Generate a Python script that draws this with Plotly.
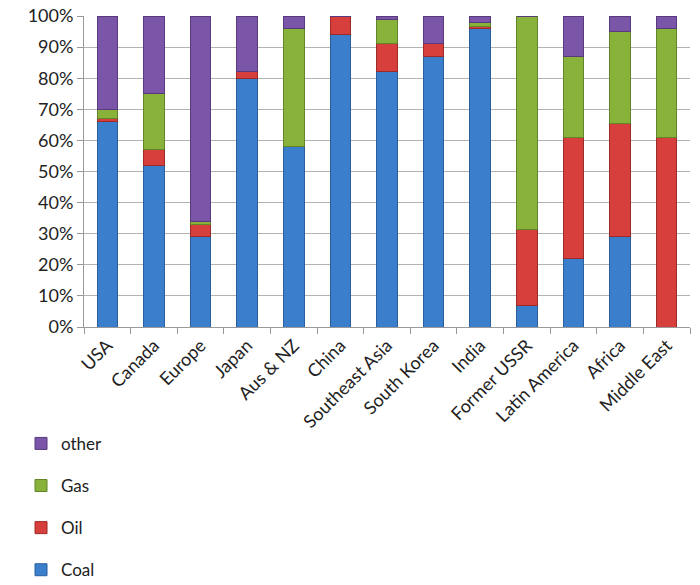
import plotly.graph_objects as go

# Share of electricity generation by fuel, per region (%)
regions = ["USA", "Canada", "Europe", "Japan", "Aus & NZ", "China",
           "Southeast Asia", "South Korea", "India", "Former USSR",
           "Latin America", "Africa", "Middle East"]
coal = [66, 52, 29, 80, 58, 94, 82, 87, 96, 7, 22, 29, 0]
oil = [1, 5, 4, 2, 0, 6, 9, 4, 0.5, 24.5, 39, 36.5, 61]
gas = [3, 18, 1, 0, 38, 0, 8, 0, 1.5, 68.5, 26, 29.5, 35]
other = [30, 25, 66, 18, 4, 0, 1, 9, 2, 0, 13, 5, 4]

# stacked bottom-to-top; legend lists them top-to-bottom in reverse
series = [
    ("Coal", coal, "#3b7fcc", "#2a5f9e", 4),
    ("Oil", oil, "#d63f3b", "#9e2a27", 3),
    ("Gas", gas, "#88b23a", "#62852a", 2),
    ("other", other, "#7a55a8", "#583a7e", 1),
]

fig = go.Figure()
for name, vals, col, edge, rank in series:
    fig.add_trace(go.Bar(
        x=regions, y=vals, name=name, legendgroup=name, legendrank=rank,
        marker=dict(color=col, line=dict(color=edge, width=1)),
    ))

font_family = "Lato, 'Open Sans', sans-serif"
fig.update_layout(
    width=700, height=585,
    margin=dict(l=84, r=10, t=16, b=258, autoexpand=False),
    barmode="stack", bargap=0.56,
    plot_bgcolor="white", paper_bgcolor="white",
    font=dict(family=font_family, size=16, color="#222222"),
    showlegend=True,
    legend=dict(
        xref="container", yref="container",
        x=0.03, y=0.272, xanchor="left", yanchor="top",
        traceorder="grouped", tracegroupgap=17,
        font=dict(size=17), itemwidth=30,
    ),
    xaxis=dict(
        tickangle=-45, tickson="boundaries", ticks="outside", ticklen=6,
        tickcolor="#999999", showline=True, linecolor="#999999",
        showgrid=False, tickfont=dict(size=18),
    ),
    yaxis=dict(
        range=[0, 100], dtick=10, ticksuffix="%", ticks="outside",
        ticklen=6, tickcolor="#999999", showline=True, linecolor="#999999",
        showgrid=True, gridcolor="#b3b3b3", gridwidth=1,
        tickfont=dict(size=18), zeroline=False,
    ),
)

fig.write_html("out.html")
